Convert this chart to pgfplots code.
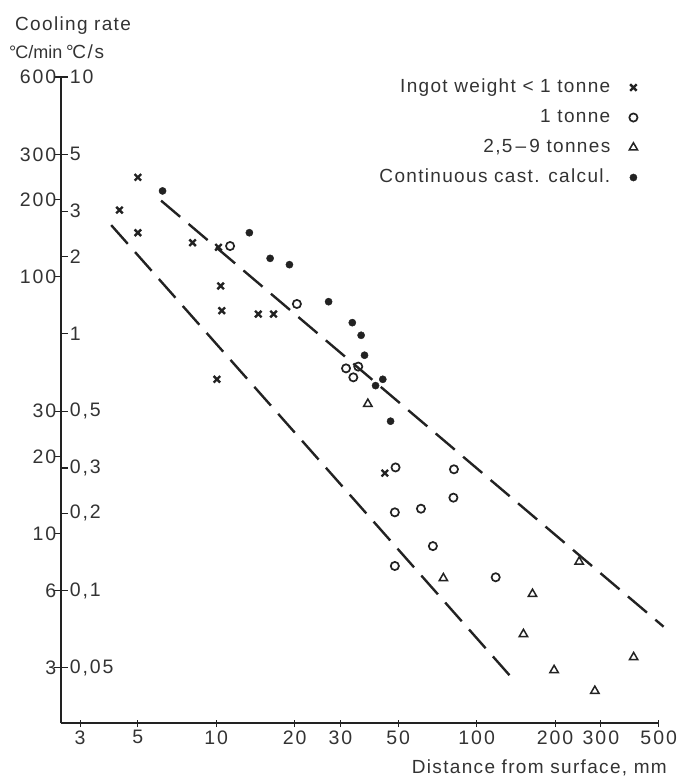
\documentclass[border=0pt]{standalone}
\usepackage{pgfplots}
\pgfplotsset{compat=1.18}
\usepackage{pgfplotstable}
\usepackage{fontspec}
\setmainfont{Liberation Sans}[LetterSpace=7]
\newfontfamily\tickfont{Liberation Sans}[LetterSpace=10]
\newfontfamily\plainfont{Liberation Sans}
\newfontfamily\widefont{Liberation Sans}[LetterSpace=9]
\definecolor{ink}{HTML}{222222}
\definecolor{txt}{HTML}{333333}

\pgfplotstableread{
x y
5.0 244
4.25 182
5.0 148.5
8.11 135.8
10.2 130.3
10.4 92.1
10.5 73.8
14.5 71.6
16.6 71.6
10.06 39.9
44.4 17.2
}\crosses

\pgfplotstableread{
x y
11.3 131.8
20.4 78.4
31.5 44.0
35.1 44.7
33.6 40.6
48.8 18.1
81.8 17.8
81.4 13.8
48.5 12.1
61.1 12.5
67.9 8.94
48.5 7.48
118.3 6.76
}\circles

\pgfplotstableread{
x y
38.2 32.0
74.5 6.70
247.5 7.77
163.8 5.82
151.2 4.06
198.3 2.94
400.6 3.30
284.3 2.44
}\triangles

\pgfplotstableread{
x y
6.22 216
13.4 148.5
16.1 118
19.1 111.5
27.0 80.0
33.3 66.3
36.0 59.2
37.1 49.5
40.9 37.7
43.6 39.9
46.7 27.4
}\dots

\begin{document}
\begin{tikzpicture}[font=\fontsize{19bp}{23bp}\selectfont]
\path[use as bounding box] (0bp,0bp) rectangle (678bp,-777bp);
\begin{axis}[
  at={(61bp,-723.3bp)}, anchor=south west,
  scale only axis, width=597.7bp, height=646.3bp,
  xmode=log, ymode=log,
  xmin=2.534, xmax=500, ymin=1.825, ymax=600,
  axis x line=bottom, axis y line=left,
  x axis line style={-, line width=2bp, color=ink},
  y axis line style={-, line width=2bp, color=ink},
  xtick={3,5,10,20,30,50,100,200,300,500},
  xticklabels={3,5,10,20,30,50,100,200,300,500},
  ytick={3,6,10,20,30,100,200,300,600},
  yticklabels={3,6,10,20,30,100,200,300,600},
  xminorticks=false, yminorticks=false,
  tick align=center,
  major tick length=7.5bp,
  every tick/.style={line width=1.1bp, color=ink},
  ytick style={xshift=-3.75bp},
  yticklabel style={xshift=2.5bp},
  tick label style={color=txt, font=\fontsize{19.5bp}{23bp}\tickfont},
  /pgf/number format/assume math mode=true,
  clip=false,
  legend plot pos=right,
  legend cell align=right,
  legend style={draw=none, fill=none, at={(0.970,1.008)}, anchor=north east,
    row sep=3bp, column sep=17bp, text=txt,
    nodes={text height=13.5bp, text depth=3.5bp, inner ysep=5bp}},
]
\addplot[ink, line width=2.4bp, dash pattern=on 25bp off 11bp, forget plot]
  coordinates {(6.14,198) (522,4.34)};
\addplot[ink, line width=2.4bp, dash pattern=on 25bp off 11bp, forget plot]
  coordinates {(3.95,159) (142.5,2.61)};
\addplot[only marks, mark=x, mark size=4.6bp, mark options={line width=2.4bp, color=ink}] table {\crosses};
\addlegendentry{Ingot weight < 1 tonne}
\addplot[only marks, mark=o, mark size=4.1bp, mark options={line width=1.7bp, color=ink, fill=white}] table {\circles};
\addlegendentry{1 tonne}
\addplot[only marks, mark=triangle, mark size=4.8bp, mark options={line width=1.5bp, color=ink, fill=white}] table {\triangles};
\addlegendentry{2,5\,–\,9 tonnes}
\addplot[only marks, mark=*, mark size=3.6bp, mark options={color=ink, fill=ink}] table {\dots};
\addlegendentry{Continuous cast. calcul.}
\end{axis}
\begin{axis}[
  at={(61bp,-723.3bp)}, anchor=south west,
  scale only axis, width=597.7bp, height=646.3bp,
  xmode=log, ymode=log,
  xmin=2.534, xmax=500, ymin=1.825, ymax=600,
  axis x line=none, axis y line=left,
  y axis line style={draw=none},
  ytick={3,6,12,18,30,60,120,180,300,600},
  yticklabels={{0,05},{0,1},{0,2},{0,3},{0,5},1,2,3,5,10},
  yminorticks=false,
  tick align=center,
  major tick length=7.5bp,
  every tick/.style={line width=1.1bp, color=ink},
  ytick style={xshift=3.75bp},
  yticklabel style={anchor=west, xshift=9bp},
  tick label style={color=txt, font=\fontsize{19.5bp}{23bp}\tickfont},
]
\end{axis}
\node[anchor=base west, text=txt, inner sep=0pt] at (15bp,-30bp) {Cooling rate};
\node[anchor=base west, text=txt, inner sep=0pt, font=\fontsize{18bp}{22bp}\plainfont] at (9bp,-58.3bp) {°\kern-1bp C/min};
\node[anchor=base west, text=txt, inner sep=0pt, font=\fontsize{19bp}{23bp}\widefont] at (66bp,-58.3bp) {°\kern-1.5bp C/s};
\node[anchor=base east, text=txt, inner sep=0pt] at (667bp,-773.7bp) {Distance from surface, mm};
\end{tikzpicture}
\end{document}
